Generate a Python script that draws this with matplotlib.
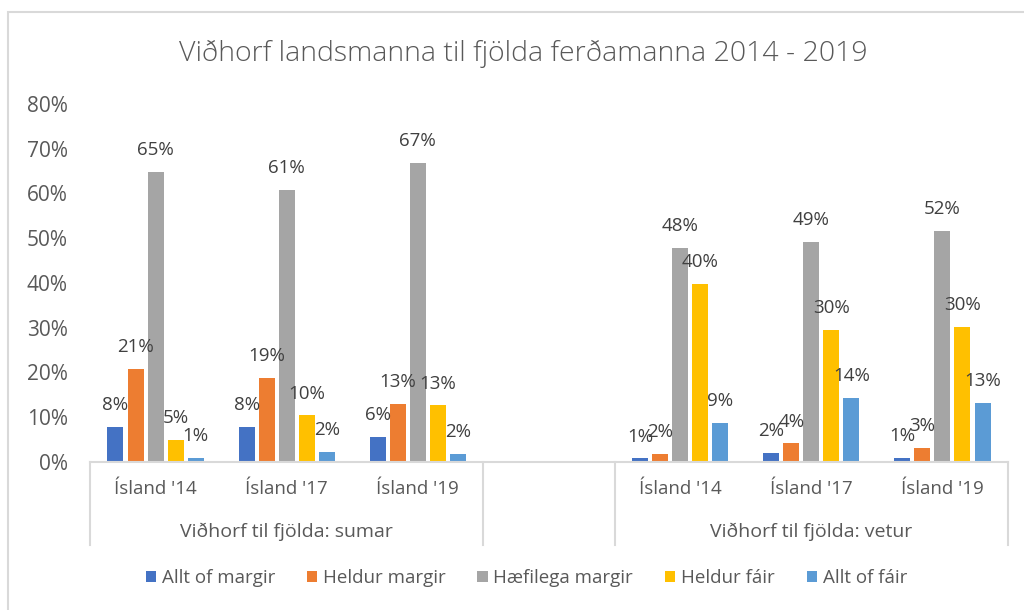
import numpy as np
import matplotlib
matplotlib.use("Agg")
import matplotlib.pyplot as plt
from matplotlib.patches import Rectangle
import matplotlib.transforms as mtrans

plt.rcParams['font.family'] = ['Open Sans', 'DejaVu Sans']

# === DATA ===
categories = ["Ísland '14", "Ísland '17", "Ísland '19", "", "Ísland '14", "Ísland '17", "Ísland '19"]
groups = ["Viðhorf til fjölda: sumar", "Viðhorf til fjölda: vetur"]
series = ["Allt of margir", "Heldur margir", "Hæfilega margir", "Heldur fáir", "Allt of fáir"]
nan = np.nan
allt_of_margir = [0.078, 0.078, 0.056, nan, 0.008, 0.021, 0.010]
heldur_margir = [0.208, 0.188, 0.130, nan, 0.018, 0.042, 0.032]
haefilega_margir = [0.648, 0.608, 0.668, nan, 0.478, 0.492, 0.516]
heldur_fair = [0.049, 0.104, 0.127, nan, 0.398, 0.296, 0.302]
allt_of_fair = [0.009, 0.022, 0.018, nan, 0.088, 0.143, 0.132]
colors = ['#4472C4', '#ED7D31', '#A5A5A5', '#FFC000', '#5B9BD5']

TXT = '#595959'
LINE = '#D9D9D9'

fig = plt.figure(figsize=(10.24, 6.10), dpi=100)
ax = fig.add_axes([90 / 1024, 148 / 610, 918 / 1024, 358 / 610])

x = np.arange(len(categories))
step = 0.153
width = 0.122
all_vals = [allt_of_margir, heldur_margir, haefilega_margir, heldur_fair, allt_of_fair]
for i, (name, vals, c) in enumerate(zip(series, all_vals, colors)):
    xs = x + (i - 2) * step
    ax.bar(xs, vals, width, color=c, label=name)
    for xi, v in zip(xs, vals):
        if np.isnan(v):
            continue
        ax.annotate(f"{round(v * 100):.0f}%", (xi, v), xytext=(0, 12),
                    textcoords='offset points', ha='center', va='baseline',
                    fontsize=13.5, color='#404040')

ax.set_xlim(-0.5, len(categories) - 0.5)
ax.set_ylim(0, 0.8)
ax.set_yticks(np.arange(0, 0.81, 0.1))
ax.set_yticklabels([f"{int(round(t * 100))}%" for t in np.arange(0, 0.81, 0.1)],
                   fontsize=15, color=TXT)
ax.tick_params(axis='y', length=0, pad=16)
ax.set_xticks(x)
ax.set_xticklabels(categories, fontsize=13.5, color=TXT)
ax.tick_params(axis='x', length=0, pad=13)

for s in ['top', 'right', 'left']:
    ax.spines[s].set_visible(False)
ax.spines['bottom'].set_color(LINE)
ax.spines['bottom'].set_linewidth(1.5)

# multi-level axis separators and group labels
trans = mtrans.blended_transform_factory(ax.transData, ax.transAxes)
for sx in [-0.5, 2.5, 3.5, 6.5]:
    ax.plot([sx, sx], [0, -0.232], transform=trans, color=LINE, lw=1.5, clip_on=False)
ax.text(1, -0.21, groups[0], transform=trans, ha='center', va='baseline', fontsize=14, color=TXT)
ax.text(5, -0.21, groups[1], transform=trans, ha='center', va='baseline', fontsize=14, color=TXT)

fig.text(0.511, 0.912, "Viðhorf landsmanna til fjölda ferðamanna 2014 - 2019",
         ha='center', va='center', fontsize=20.5, color=TXT, fontweight='light')

ax.legend(loc='center', bbox_to_anchor=(0.514, 0.052), bbox_transform=fig.transFigure,
          ncol=5, frameon=False, fontsize=13.5, labelcolor=TXT, handlelength=0.55,
          handleheight=0.55, handletextpad=0.3, columnspacing=1.7)

# chart border
fig.add_artist(Rectangle((8 / 1024, -0.1), 1.2, 0.1 + 598 / 610, transform=fig.transFigure,
                         fill=False, edgecolor=LINE, lw=1.5))

fig.savefig("out.png", dpi=100)
